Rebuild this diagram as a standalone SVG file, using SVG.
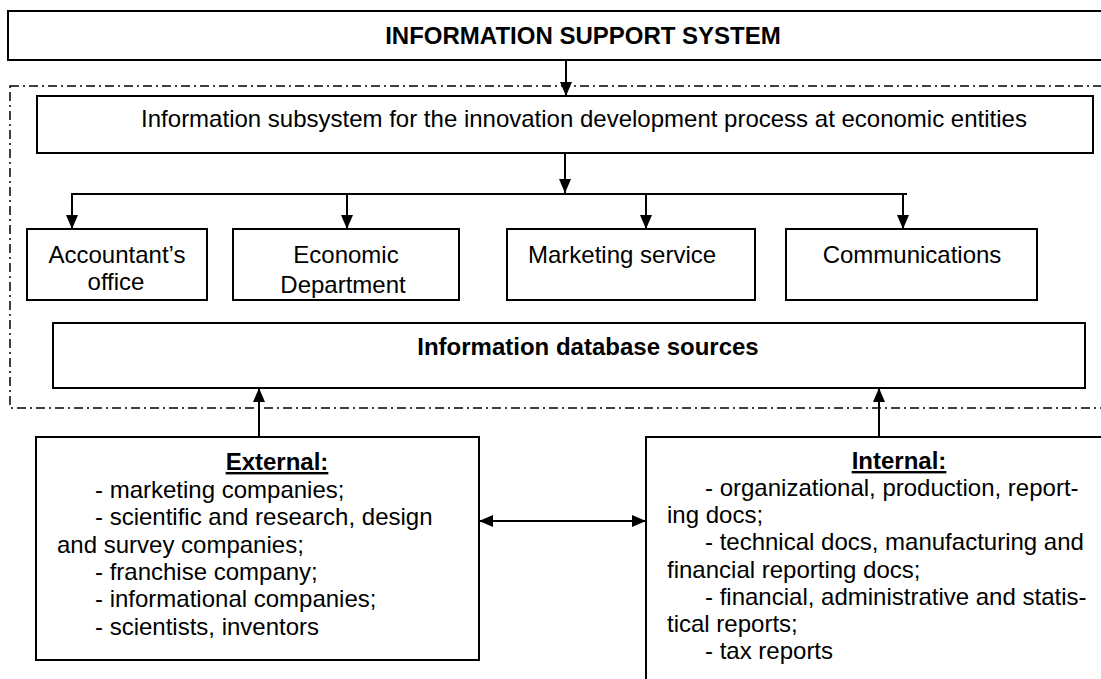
<svg xmlns="http://www.w3.org/2000/svg" width="1101" height="679" viewBox="0 0 1101 679">
<style>
.box{fill:#fff;stroke:#000;stroke-width:2}
.t{font-family:"Liberation Sans",Arial,sans-serif;font-size:24px;fill:#000}
.b{font-weight:bold}
.c{text-anchor:middle}
.ln{stroke:#000;stroke-width:2;fill:none}
.dd{fill:none;stroke:#000;stroke-width:1.5;stroke-dasharray:9 4 2 4}
</style>
<defs>
<marker id="ah" markerUnits="userSpaceOnUse" viewBox="0 0 14 12" refX="14" refY="6" markerWidth="14" markerHeight="12" orient="auto-start-reverse">
<path d="M0,0 L14,6 L0,12 z" fill="#000"/>
</marker>
<clipPath id="clipEco"><rect x="233" y="229" width="226" height="69"/></clipPath>
</defs>
<rect class="dd" x="10" y="86" width="1120" height="322"/>
<g id="title">
<rect class="box" x="8" y="11" width="1110" height="49"/>
<text class="t b c" x="583" y="44">INFORMATION SUPPORT SYSTEM</text>
</g>
<g id="subsystem">
<rect class="box" x="37" y="96" width="1056" height="57"/>
<text class="t c" x="584" y="127">Information subsystem for the innovation development process at economic entities</text>
</g>
<g id="accountant">
<rect class="box" x="27" y="229" width="180" height="71"/>
<text class="t c" x="117" y="263">Accountant’s</text>
<text class="t c" x="116" y="290">office</text>
</g>
<g id="economic">
<rect class="box" x="233" y="229" width="226" height="71"/>
<g clip-path="url(#clipEco)">
<text class="t c" x="346" y="263">Economic</text>
<text class="t c" x="343" y="293">Department</text>
</g>
</g>
<g id="marketing">
<rect class="box" x="507" y="229" width="248" height="71"/>
<text class="t" x="528" y="263">Marketing service</text>
</g>
<g id="communications">
<rect class="box" x="786" y="229" width="251" height="71"/>
<text class="t c" x="912" y="263">Communications</text>
</g>
<g id="database">
<rect class="box" x="53" y="323" width="1032" height="65"/>
<text class="t b c" x="588" y="355">Information database sources</text>
</g>
<g id="external">
<rect class="box" x="36" y="437" width="443" height="223"/>
<text class="t b c" x="277" y="470" text-decoration="underline">External:</text>
<text class="t" x="95" y="497.6">- marketing companies;</text>
<text class="t" x="95" y="525.2">- scientific and research, design</text>
<text class="t" x="57" y="552.8">and survey companies;</text>
<text class="t" x="95" y="580">- franchise company;</text>
<text class="t" x="95" y="607">- informational companies;</text>
<text class="t" x="95" y="634.5">- scientists, inventors</text>
</g>
<g id="internal">
<rect class="box" x="646" y="437" width="470" height="260"/>
<text class="t b c" x="899" y="469" text-decoration="underline">Internal:</text>
<text class="t" x="705" y="496">- organizational, production, report-</text>
<text class="t" x="667" y="523">ing docs;</text>
<text class="t" x="705" y="550">- technical docs, manufacturing and</text>
<text class="t" x="667" y="577.5">financial reporting docs;</text>
<text class="t" x="705" y="605">- financial, administrative and statis-</text>
<text class="t" x="667" y="632">tical reports;</text>
<text class="t" x="705" y="659">- tax reports</text>
</g>
<g id="connectors">
<line class="ln" x1="566" y1="60" x2="566" y2="96" marker-end="url(#ah)"/>
<line class="ln" x1="565" y1="153" x2="565" y2="193" marker-end="url(#ah)"/>
<line class="ln" x1="71" y1="194" x2="907" y2="194"/>
<line class="ln" x1="72" y1="194" x2="72" y2="229" marker-end="url(#ah)"/>
<line class="ln" x1="347" y1="194" x2="347" y2="229" marker-end="url(#ah)"/>
<line class="ln" x1="646" y1="194" x2="646" y2="229" marker-end="url(#ah)"/>
<line class="ln" x1="903" y1="194" x2="903" y2="229" marker-end="url(#ah)"/>
<line class="ln" x1="259" y1="437" x2="259" y2="388" marker-end="url(#ah)"/>
<line class="ln" x1="879" y1="437" x2="879" y2="388" marker-end="url(#ah)"/>
<line class="ln" x1="479" y1="521" x2="646" y2="521" marker-start="url(#ah)" marker-end="url(#ah)"/>
</g>
</svg>
